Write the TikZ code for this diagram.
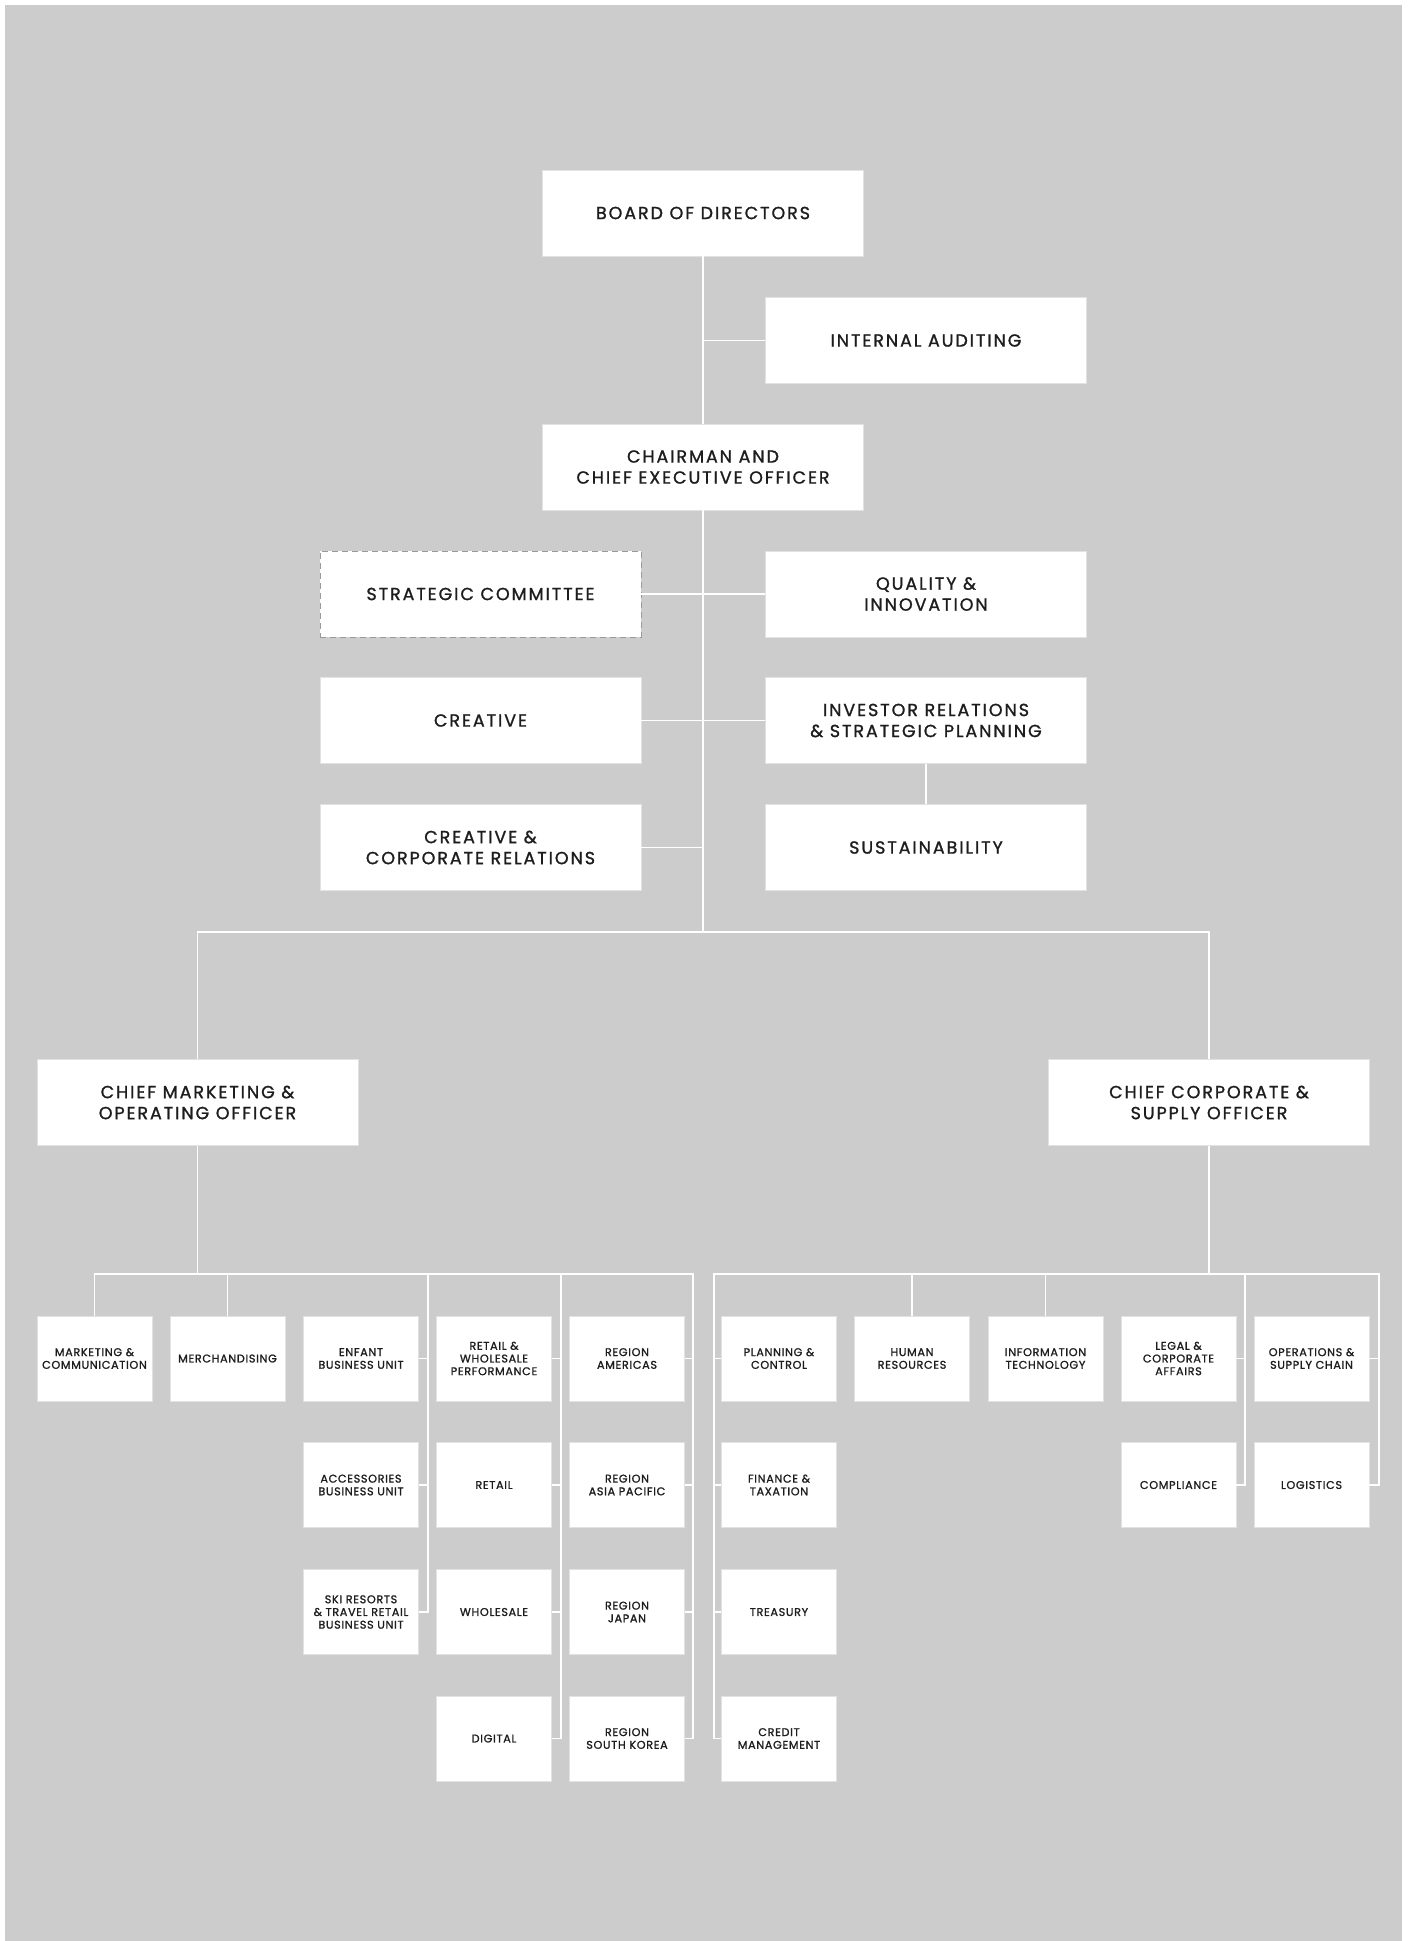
\documentclass[tikz,border=0pt]{standalone}
\usepackage{fontspec}
\setmainfont{Poppins}
\newfontfamily\bigfont{Poppins}[LetterSpace=11,FakeBold=1.2]
\newfontfamily\smallfont{Poppins}[LetterSpace=6,FakeBold=1.2]
\usepackage{tikz}
\usetikzlibrary{calc}
\definecolor{bggray}{HTML}{CCCCCC}
\definecolor{boxline}{HTML}{E2E2E2}
\definecolor{dashgray}{HTML}{9A9A9A}
\definecolor{ink}{HTML}{1E1C1D}

\begin{document}
\begin{tikzpicture}[x=1pt,y=1pt,yscale=-1,
  bigbox/.style={draw=boxline,line width=0.8pt,fill=white,minimum width=321pt,minimum height=86pt,inner sep=0pt,align=center,text=ink,font=\bigfont\fontsize{17.5}{21}\selectfont},
  smallbox/.style={draw=boxline,line width=0.8pt,fill=white,minimum width=115pt,minimum height=85pt,inner sep=0pt,align=center,text=ink,font=\smallfont\fontsize{11.2}{12.7}\selectfont},
  dashbox/.style={bigbox,draw=dashgray,dashed,dash pattern=on 6pt off 4pt},
  link/.style={draw=white,line width=1.5pt}]
\useasboundingbox (0,0) rectangle (1410,1941);
\fill [white] (0,0) rectangle (1410,1941);
\fill [bggray] (5,5) rectangle (1402,1941);
% Top boxes
\node [bigbox] (board) at (703,213) {BOARD OF DIRECTORS};
\node [bigbox] (audit) at (926,340.5) {INTERNAL AUDITING};
\node [bigbox] (ceo) at (703,467) {CHAIRMAN AND\\CHIEF EXECUTIVE OFFICER};
\node [dashbox] (strat) at (480.5,594) {STRATEGIC COMMITTEE};
\node [bigbox] (quality) at (926,594) {QUALITY \&\\INNOVATION};
\node [bigbox] (creative) at (480.5,720.5) {CREATIVE};
\node [bigbox] (investor) at (926,720.5) {INVESTOR RELATIONS\\\& STRATEGIC PLANNING};
\node [bigbox] (ccr) at (480.5,847.5) {CREATIVE \&\\CORPORATE RELATIONS};
\node [bigbox] (sustain) at (926,847.5) {SUSTAINABILITY};
\node [bigbox] (cmoo) at (197.5,1102.5) {CHIEF MARKETING \&\\OPERATING OFFICER};
\node [bigbox] (ccso) at (1209,1102.5) {CHIEF CORPORATE \&\\SUPPLY OFFICER};
% Marketing side
\node [smallbox] (marketing) at (94.5,1358.5) {MARKETING \&\\COMMUNICATION};
\node [smallbox] (merch) at (227.5,1358.5) {MERCHANDISING};
\node [smallbox] (enfant) at (361,1358.5) {ENFANT\\BUSINESS UNIT};
\node [smallbox] (access) at (361,1485) {ACCESSORIES\\BUSINESS UNIT};
\node [smallbox] (ski) at (361,1612) {SKI RESORTS\\\& TRAVEL RETAIL\\BUSINESS UNIT};
\node [smallbox] (rwp) at (494,1358.5) {RETAIL \&\\WHOLESALE\\PERFORMANCE};
\node [smallbox] (retail) at (494,1485) {RETAIL};
\node [smallbox] (wholesale) at (494,1612) {WHOLESALE};
\node [smallbox] (digital) at (494,1738.5) {DIGITAL};
\node [smallbox] (americas) at (627,1358.5) {REGION\\AMERICAS};
\node [smallbox] (asia) at (627,1485) {REGION\\ASIA PACIFIC};
\node [smallbox] (japan) at (627,1612) {REGION\\JAPAN};
\node [smallbox] (korea) at (627,1738.5) {REGION\\SOUTH KOREA};
% Corporate side
\node [smallbox] (planning) at (779,1358.5) {PLANNING \&\\CONTROL};
\node [smallbox] (finance) at (779,1485) {FINANCE \&\\TAXATION};
\node [smallbox] (treasury) at (779,1612) {TREASURY};
\node [smallbox] (credit) at (779,1738.5) {CREDIT\\MANAGEMENT};
\node [smallbox] (hr) at (912,1358.5) {HUMAN\\RESOURCES};
\node [smallbox] (infotech) at (1045.5,1358.5) {INFORMATION\\TECHNOLOGY};
\node [smallbox] (legal) at (1178.5,1358.5) {LEGAL \&\\CORPORATE\\AFFAIRS};
\node [smallbox] (compliance) at (1178.5,1485) {COMPLIANCE};
\node [smallbox] (ops) at (1311.5,1358.5) {OPERATIONS \&\\SUPPLY CHAIN};
\node [smallbox] (logistics) at (1311.5,1485) {LOGISTICS};
% Bus points
\coordinate (topbus) at (703,932);
\coordinate (lbus) at (197.5,1274);
\coordinate (lbusE) at (693,1274);
\coordinate (busA) at (428,1274);
\coordinate (busB) at (561,1274);
\coordinate (rbus) at (1209,1274);
\coordinate (rbusW) at (714,1274);
\coordinate (rbusE) at (1379,1274);
\coordinate (busC) at (1245,1274);
%Straight Lines
\draw [link] (board) -- (ceo);
\draw [link] (audit.west) -- (audit.west -| board.south);
\draw [link] (ceo) -- (topbus);
\draw [link] (strat.east) -- (quality.west);
\draw [link] (creative.east) -- (investor.west);
\draw [link] (ccr.east) -- (ccr.east -| ceo.south);
\draw [link] (investor) -- (sustain);
\draw [link] (cmoo.north) -- (cmoo.north |- topbus) -- (ccso.north |- topbus) -- (ccso.north);
%Straight Lines
\draw [link] (cmoo) -- (lbus);
\draw [link] (marketing.north) -- (marketing.north |- lbus) -- (lbusE) |- (korea.east);
\draw [link] (merch.north) -- (merch.north |- lbus);
\draw [link] (busA) |- (ski.east);
\draw [link] (enfant.east) -- (enfant.east -| busA);
\draw [link] (access.east) -- (access.east -| busA);
\draw [link] (busB) |- (digital.east);
\draw [link] (rwp.east) -- (rwp.east -| busB);
\draw [link] (retail.east) -- (retail.east -| busB);
\draw [link] (wholesale.east) -- (wholesale.east -| busB);
\draw [link] (americas.east) -- (americas.east -| lbusE);
\draw [link] (asia.east) -- (asia.east -| lbusE);
\draw [link] (japan.east) -- (japan.east -| lbusE);
%Straight Lines
\draw [link] (ccso) -- (rbus);
\draw [link] (credit.west) -| (rbusW) -- (rbusE) |- (logistics.east);
\draw [link] (planning.west) -- (planning.west -| rbusW);
\draw [link] (finance.west) -- (finance.west -| rbusW);
\draw [link] (treasury.west) -- (treasury.west -| rbusW);
\draw [link] (hr.north) -- (hr.north |- rbusW);
\draw [link] (infotech.north) -- (infotech.north |- rbusW);
\draw [link] (busC) |- (compliance.east);
\draw [link] (legal.east) -- (legal.east -| busC);
\draw [link] (ops.east) -- (ops.east -| rbusE);
\end{tikzpicture}
\end{document}
